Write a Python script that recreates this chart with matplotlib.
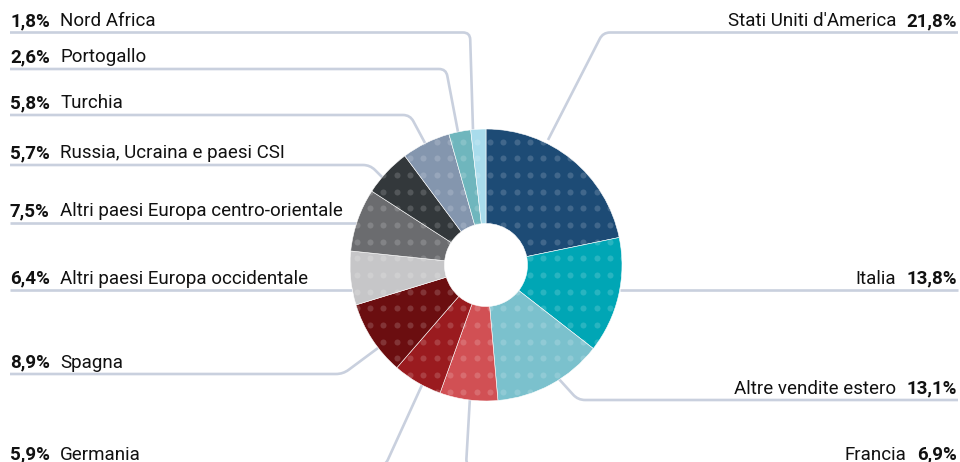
import numpy as np
import matplotlib.pyplot as plt
from matplotlib.path import Path
from matplotlib.patches import PathPatch

# dati: quote di vendita per area geografica (senso orario dall'alto)
labels = ["Stati Uniti d'America", "Italia", "Altre vendite estero", "Francia",
          "Germania", "Spagna", "Altri paesi Europa occidentale",
          "Altri paesi Europa centro-orientale", "Russia, Ucraina e paesi CSI",
          "Turchia", "Portogallo", "Nord Africa"]
values = [21.8, 13.8, 13.1, 6.9, 5.9, 8.9, 6.4, 7.5, 5.7, 5.8, 2.6, 1.8]
colors = ["#1d4b75", "#00a6b5", "#7bc1cd", "#d15054", "#9a1b1f", "#6b0e10",
          "#c6c6c8", "#6b6c6f", "#33383b", "#8496ae", "#6fb6bd", "#a9dcec"]
sides = ["R", "R", "R", "R", "L", "L", "L", "L", "L", "L", "L", "L"]

W, H = 960, 462
CX, CY, R_OUT, R_IN = 486, 265, 136, 41.5
LINE_COL = "#c9d0de"
FONT = "Roboto"
FS = 13.5

# layout: y of the label rule and the leader polyline (pixel coords, y down)
rule_y = [32.5, 290, 400, 466, 466, 374, 290, 223, 165, 115, 69, 32.5]
leaders = [
    [(958, 32.5), (603, 32.5), (548, 140)],
    [(958, 290), (620, 290)],
    [(958, 400), (578, 400), (558, 378)],
    [(958, 466), (466, 466), (470, 397)],
    [(10, 466), (385, 466), (422, 385)],
    [(10, 374), (343, 374), (378, 348)],
    [(10, 290), (352, 290)],
    [(10, 223), (357, 223)],
    [(10, 165), (370, 165), (385, 180)],
    [(10, 115), (410, 115), (425, 143)],
    [(10, 69), (446, 69), (458, 132)],
    [(10, 32.5), (470, 32.5), (473, 130)],
]


def to_data(p):
    return (p[0], H - p[1])


def rounded_path(pts, r=7):
    pts = [np.array(to_data(p), float) for p in pts]
    verts, codes = [pts[0]], [Path.MOVETO]
    for i in range(1, len(pts) - 1):
        p0, p1, p2 = pts[i - 1], pts[i], pts[i + 1]
        d1 = (p0 - p1) / np.linalg.norm(p0 - p1)
        d2 = (p2 - p1) / np.linalg.norm(p2 - p1)
        verts += [p1 + d1 * r, p1, p1 + d2 * r]
        codes += [Path.LINETO, Path.CURVE3, Path.CURVE3]
    verts.append(pts[-1])
    codes.append(Path.LINETO)
    return Path(verts, codes)


fig = plt.figure(figsize=(W / 100, H / 100), dpi=100)
ax = fig.add_axes([0, 0, 1, 1])

# leader lines (under the donut)
for pts in leaders:
    ax.add_patch(PathPatch(rounded_path(pts), fill=False, edgecolor=LINE_COL,
                           linewidth=1.9, capstyle="butt", zorder=1))

wedges, _ = ax.pie(values, colors=colors, startangle=90, counterclock=False,
                   center=(CX, H - CY), radius=R_OUT, frame=False,
                   wedgeprops=dict(width=R_OUT - R_IN, edgecolor="white",
                                   linewidth=0.4, zorder=2))

# dotted texture
gx = 490 + 13.33 * np.arange(-11, 11)
gy = 141.7 + 16.67 * np.arange(-1, 17)
GX, GY = np.meshgrid(gx, gy)
for w in wedges:
    sc = ax.scatter(GX.ravel(), H - GY.ravel(), s=19, color="white",
                    alpha=0.16, linewidths=0, zorder=3)
    sc.set_clip_path(w)

# labels
for lab, v, side, ry in zip(labels, values, sides, rule_y):
    pct = f"{v:.1f}%".replace(".", ",")
    yb = H - (ry - 6.5)
    if side == "L":
        t = ax.text(10, yb, pct, ha="left", va="baseline", fontsize=FS,
                    fontweight="bold", family=FONT, color="#111111")
        ax.annotate(lab, xy=(1, 0), xycoords=t, xytext=(7.5, 0),
                    textcoords="offset points", ha="left", va="bottom",
                    fontsize=FS, family=FONT, color="#111111")
    else:
        t = ax.text(957, yb, pct, ha="right", va="baseline", fontsize=FS,
                    fontweight="bold", family=FONT, color="#111111")
        ax.annotate(lab, xy=(0, 0), xycoords=t, xytext=(-7.5, 0),
                    textcoords="offset points", ha="right", va="bottom",
                    fontsize=FS, family=FONT, color="#111111")

ax.set_xlim(0, W)
ax.set_ylim(0, H)
ax.set_aspect("equal")
ax.set_axis_off()

fig.savefig("out.png", dpi=100)
